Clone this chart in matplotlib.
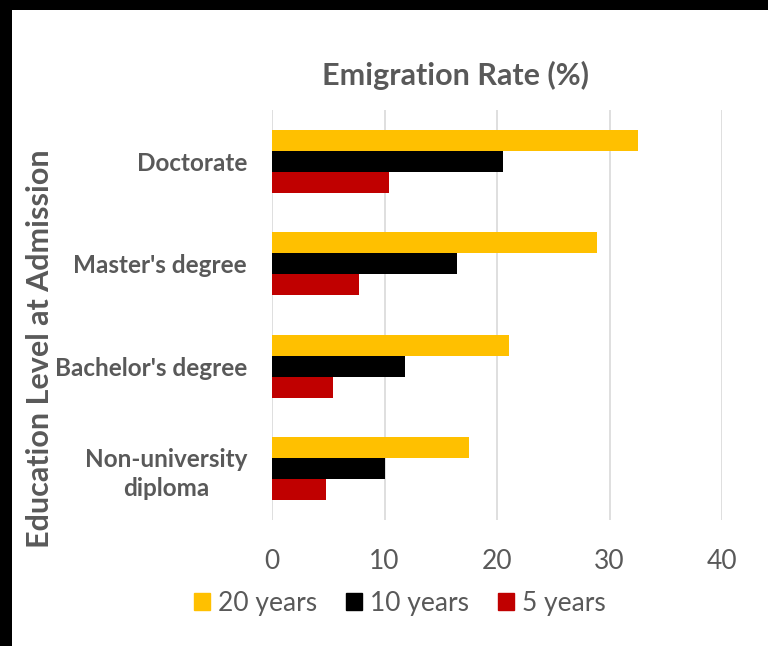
import matplotlib.pyplot as plt
import numpy as np
from matplotlib.patches import Rectangle, Patch

# education levels, bottom to top
levels = ["Non-university\ndiploma", "Bachelor's degree", "Master's degree", "Doctorate"]
rate_20y = [17.5, 21.1, 28.9, 32.5]
rate_10y = [10.0, 11.8, 16.4, 20.5]
rate_5y = [4.8, 5.45, 7.7, 10.4]
xticks = [0, 10, 20, 30, 40]

gray_text = '#595959'
plt.rcParams['font.family'] = ['Lato', 'DejaVu Sans']

fig = plt.figure(figsize=(7.68, 6.46), dpi=100, facecolor='black')
# white chart area, black strip left and top
bg = Rectangle((12 / 768, 0), 1 - 12 / 768, 1 - 10 / 646,
               transform=fig.transFigure, facecolor='white',
               edgecolor='none', zorder=-10)
fig.add_artist(bg)

ax = fig.add_axes([272 / 768, 1 - 520 / 646, 450 / 768, 410 / 646])
ax.set_zorder(1)
ax.patch.set_alpha(0)

y = np.arange(len(levels))
h = 0.205
ax.barh(y + h, rate_20y, height=h, color='#FFC000', label='20 years')
ax.barh(y, rate_10y, height=h, color='#000000', label='10 years')
ax.barh(y - h, rate_5y, height=h, color='#C00000', label='5 years')

ax.set_xlim(0, 40)
ax.set_ylim(-0.5, len(levels) - 0.5)
ax.set_xticks(xticks)
ax.set_yticks(y)
ax.set_yticklabels(levels, fontsize=17.5, fontweight='bold', color=gray_text,
                   ha='right', multialignment='center', linespacing=1.35)
ax.tick_params(axis='y', length=0, pad=18)
ax.tick_params(axis='x', length=0, pad=21, labelsize=19, labelcolor=gray_text)

ax.set_axisbelow(True)
ax.grid(axis='x', color='#D9D9D9', linewidth=1.2)
for s in ax.spines.values():
    s.set_visible(False)

fig.text(455 / 768, 1 - 75 / 646, 'Emigration Rate (%)', ha='center', va='center',
         fontsize=22, fontweight='bold', color=gray_text)
fig.text(40 / 768, 1 - 349 / 646, 'Education Level at Admission', rotation=90,
         ha='center', va='center', fontsize=22, fontweight='bold', color=gray_text)

handles = [Patch(color='#FFC000', label='20 years'),
           Patch(color='#000000', label='10 years'),
           Patch(color='#C00000', label='5 years')]
leg = fig.legend(handles=handles, loc='center', bbox_to_anchor=(400 / 768, 1 - 603 / 646),
                 ncol=3, frameon=False, fontsize=19, handlelength=0.6, handleheight=0.6,
                 handletextpad=0.3, columnspacing=1.1, borderpad=0)
for t in leg.get_texts():
    t.set_color(gray_text)

fig.savefig('out.png', dpi=100, facecolor=fig.get_facecolor())
